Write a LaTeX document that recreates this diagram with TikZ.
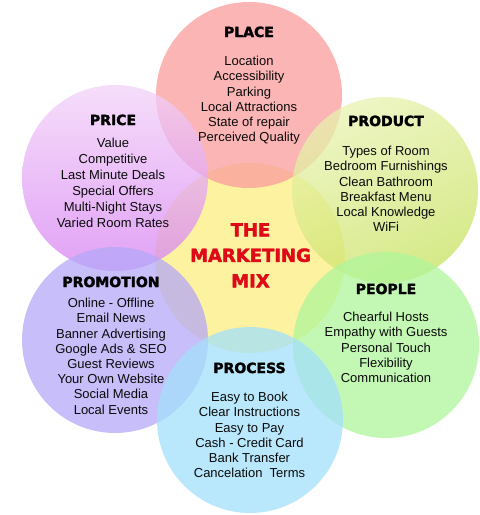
\documentclass[tikz,border=0pt]{standalone}
\usepackage{fontspec}
\setmainfont{Liberation Sans}
\newfontfamily\headfamily{DejaVu Sans}[BoldFeatures={FakeBold=2.2}]
\usetikzlibrary{positioning}
\def\circlesize{186pt}
\def\circleopacity{0.75}
\def\centersize{190pt}
\definecolor{centercolor}{RGB}{253,242,160}
\definecolor{placecolor}{RGB}{250,156,156}
\definecolor{pricetop}{RGB}{242,210,248}
\definecolor{pricebottom}{RGB}{215,130,242}
\definecolor{producttop}{RGB}{232,242,176}
\definecolor{productbottom}{RGB}{200,226,96}
\definecolor{promotioncolor}{RGB}{182,168,248}
\definecolor{peoplecolor}{RGB}{175,246,155}
\definecolor{processcolor}{RGB}{162,224,251}
\definecolor{titlecolor}{RGB}{222,10,24}
\definecolor{bodytext}{RGB}{10,10,10}
\tikzset{
	% circles of the mix
	petal/.style={
		shape=circle,
		minimum size=\circlesize,
		inner sep=0pt,
		outer sep=0pt,
		fill opacity=\circleopacity,
	},
	% headings
	heading/.style={
		font=\headfamily\bfseries\fontsize{14}{16}\selectfont,
		anchor=base,
		inner sep=0pt,
		text=black,
	},
	% lists of items
	items/.style={
		font=\fontsize{13}{15.2}\selectfont,
		align=center,
		inner sep=0pt,
		text=bodytext,
	},
	% centre title
	title/.style={
		font=\headfamily\bfseries\fontsize{18}{25.5}\selectfont,
		align=center,
		inner sep=0pt,
		text=titlecolor,
	},
}

\begin{document}
\begin{tikzpicture}[x=1pt, y=-1pt]
		\useasboundingbox (0,0) rectangle (480,515);
		% Centre
		\node[
			shape=circle,
			minimum size=\centersize,
			fill=centercolor,
		] (center_circle) at (250,258) {};
		
		% Circles
		\node[
			petal,
			fill=placecolor,
		] (place_circle) at (249,95) {};
		%
		\node[
			petal,
			top color=pricetop,
			bottom color=pricebottom,
		] (price_circle) at (115,178) {};
		%
		\node[
			petal,
			top color=producttop,
			bottom color=productbottom,
			shading angle=25,
		] (product_circle) at (385,190) {};
		%
		\node[
			petal,
			fill=promotioncolor,
		] (promotion_circle) at (115,340) {};
		%
		\node[
			petal,
			fill=peoplecolor,
		] (people_circle) at (386,345) {};
		%
		\node[
			petal,
			fill=processcolor,
		] (process_circle) at (250,420) {};
		
		% Title
		\node[
			title,
			anchor=north,
		] (mix_title) at (250.5,223) {THE\\MARKETING\\MIX};
		
		% Place
		\node[heading] (place_head) at (249,37) {PLACE};
		\node[
			items,
			below=18.6pt of place_head,
		] (place_items) {Location\\Accessibility\\Parking\\Local Attractions\\State of repair\\Perceived Quality};
		
		% Price
		\node[heading] (price_head) at (113,125) {PRICE};
		\node[
			items,
			font=\fontsize{13}{16}\selectfont,
			below=12.6pt of price_head,
		] (price_items) {Value\\Competitive\\Last Minute Deals\\Special Offers\\Multi-Night Stays\\Varied Room Rates};
		
		% Product
		\node[heading] (product_head) at (386,126) {PRODUCT};
		\node[
			items,
			below=19.6pt of product_head,
		] (product_items) {Types of Room\\Bedroom Furnishings\\Clean Bathroom\\Breakfast Menu\\Local Knowledge\\WiFi};
		
		% Promotion
		\node[heading] (promotion_head) at (111,287) {PROMOTION};
		\node[
			items,
			below=10.6pt of promotion_head,
		] (promotion_items) {Online - Offline\\Email News\\Banner Advertising\\Google Ads \& SEO\\Guest Reviews\\Your Own Website\\Social Media\\Local Events};
		
		% People
		\node[heading] (people_head) at (386,294) {PEOPLE};
		\node[
			items,
			below=17.6pt of people_head,
		] (people_items) {Chearful Hosts\\Empathy with Guests\\Personal Touch\\Flexibility\\Communication};
		
		% Process
		\node[heading] (process_head) at (249.5,373) {PROCESS};
		\node[
			items,
			below=18.6pt of process_head,
		] (process_items) {Easy to Book\\Clear Instructions\\Easy to Pay\\Cash - Credit Card\\Bank Transfer\\Cancelation\ \ Terms};
	\end{tikzpicture}
\end{document}
